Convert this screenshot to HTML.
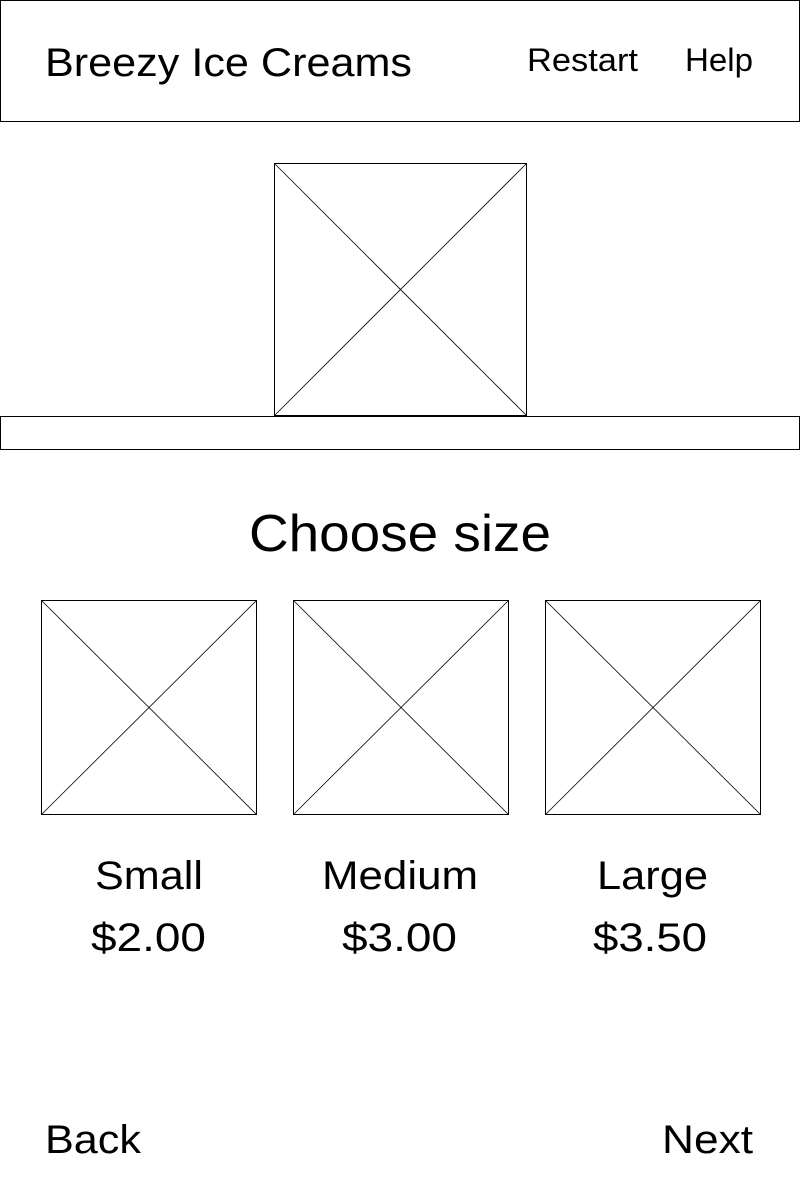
<!DOCTYPE html>
<html>
<head>
<meta charset="utf-8">
<style>
html,body{margin:0;padding:0;background:#fff;}
svg{display:block;font-family:"Liberation Sans",sans-serif;}
text{fill:#000;}
</style>
</head>
<body>
<svg width="800" height="1200" viewBox="0 0 800 1200">
  <g>
    <rect x="0.5" y="0.5" width="799" height="121" fill="none" stroke="#000" stroke-width="1"/>
    <text x="45" y="76" font-size="40" textLength="367" lengthAdjust="spacingAndGlyphs">Breezy Ice Creams</text>
    <text x="527" y="71" font-size="32" textLength="111" lengthAdjust="spacingAndGlyphs">Restart</text>
    <text x="685" y="71" font-size="32" textLength="68" lengthAdjust="spacingAndGlyphs">Help</text>
  </g>
  <g>
    <rect x="274.5" y="163.5" width="252" height="252" fill="none" stroke="#000"/>
    <line x1="274.5" y1="163.5" x2="526.5" y2="415.5" stroke="#000" stroke-width="0.8"/>
    <line x1="526.5" y1="163.5" x2="274.5" y2="415.5" stroke="#000" stroke-width="0.8"/>
  </g>
  <rect x="0.5" y="416.5" width="799" height="33" fill="none" stroke="#000"/>
  <text x="249" y="551" font-size="52" textLength="302" lengthAdjust="spacingAndGlyphs">Choose size</text>

  <g>
    <rect x="41.5" y="600.5" width="215" height="214" fill="none" stroke="#000"/>
    <line x1="41.5" y1="600.5" x2="256.5" y2="814.5" stroke="#000" stroke-width="0.8"/>
    <line x1="256.5" y1="600.5" x2="41.5" y2="814.5" stroke="#000" stroke-width="0.8"/>
    <text x="95" y="889" font-size="40" textLength="108" lengthAdjust="spacingAndGlyphs">Small</text>
    <text x="91" y="951" font-size="40" textLength="115" lengthAdjust="spacingAndGlyphs">$2.00</text>
  </g>
  <g>
    <rect x="293.5" y="600.5" width="215" height="214" fill="none" stroke="#000"/>
    <line x1="293.5" y1="600.5" x2="508.5" y2="814.5" stroke="#000" stroke-width="0.8"/>
    <line x1="508.5" y1="600.5" x2="293.5" y2="814.5" stroke="#000" stroke-width="0.8"/>
    <text x="322" y="889" font-size="40" textLength="156" lengthAdjust="spacingAndGlyphs">Medium</text>
    <text x="342" y="951" font-size="40" textLength="115" lengthAdjust="spacingAndGlyphs">$3.00</text>
  </g>
  <g>
    <rect x="545.5" y="600.5" width="215" height="214" fill="none" stroke="#000"/>
    <line x1="545.5" y1="600.5" x2="760.5" y2="814.5" stroke="#000" stroke-width="0.8"/>
    <line x1="760.5" y1="600.5" x2="545.5" y2="814.5" stroke="#000" stroke-width="0.8"/>
    <text x="597" y="889" font-size="40" textLength="111" lengthAdjust="spacingAndGlyphs">Large</text>
    <text x="593" y="951" font-size="40" textLength="114" lengthAdjust="spacingAndGlyphs">$3.50</text>
  </g>

  <text x="45" y="1153" font-size="40" textLength="96" lengthAdjust="spacingAndGlyphs">Back</text>
  <text x="662" y="1153" font-size="40" textLength="91" lengthAdjust="spacingAndGlyphs">Next</text>
</svg>
</body>
</html>
